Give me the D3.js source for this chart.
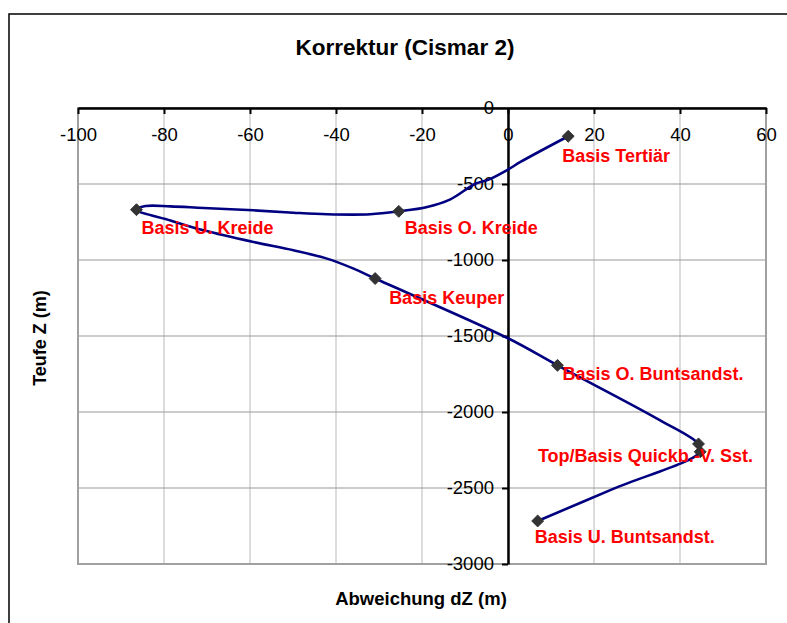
<!DOCTYPE html>
<html>
<head>
<meta charset="utf-8">
<script src="https://cdn.jsdelivr.net/npm/d3@7"></script>
<style>
  html, body { margin: 0; padding: 0; background: #fff; }
  svg { display: block; font-family: "Liberation Sans", Arial, sans-serif; }
</style>
</head>
<body>
<svg id="chart" width="787" height="623"></svg>
<script>
// Well path of Cismar 2: depth correction dZ (m) against true depth Z (m)
const pathDz = [14, 2.9, 0, -4.5, -7.6, -13.4, -18.8, -25.4, -32, -42.1, -49.9, -59.2, -70.8, -78.5, -84.3, -86.4,
                -78.5, -70.8, -59.2, -49.9, -42.1, -35.9, -30.9, 0, 11.5, 35.4, 44.3, 44.7, 24.6, 6.9];
const pathZ  = [-186, -355, -405, -471, -498, -601, -651, -680, -699, -699, -689, -673, -658, -647, -645, -669,
                -740, -805, -882, -936, -991, -1057, -1122, -1515, -1693, -2055, -2210, -2262, -2504, -2717];

// Stratigraphic horizons (markers)
const horizonNames = ["Basis Tertiär", "Basis O. Kreide", "Basis U. Kreide", "Basis Keuper",
                      "Basis O. Buntsandst.", "Top Quickb.-V. Sst.", "Basis Quickb.-V. Sst.", "Basis U. Buntsandst."];
const horizonDz = [14, -25.4, -86.4, -30.9, 11.5, 44.3, 44.7, 6.9];
const horizonZ  = [-186, -680, -669, -1122, -1693, -2210, -2262, -2717];

// Label texts, each tied to a horizon marker
const labelTexts   = ["Basis Tertiär", "Basis O. Kreide", "Basis U. Kreide", "Basis Keuper",
                      "Basis O. Buntsandst.", "Top/Basis Quickb.-V. Sst.", "Basis U. Buntsandst."];
const labelHorizon = [0, 1, 2, 3, 4, 5, 7];

// Axis ticks
const xTicks = [-100, -80, -60, -40, -20, 0, 20, 40, 60];
const yTicks = [0, -500, -1000, -1500, -2000, -2500, -3000];

const svg = d3.select("#chart");
const plainNumber = d => String(d);

// outer chart frame
svg.append("rect")
  .attr("x", 9).attr("y", 14).attr("width", 820).attr("height", 700)
  .attr("fill", "#fff").attr("stroke", "#000").attr("stroke-width", 1.5);

const plot = { left: 78, right: 766, top: 108, bottom: 564 };
const x = d3.scaleLinear().domain([-100, 60]).range([plot.left, plot.right]);
const y = d3.scaleLinear().domain([0, -3000]).range([plot.top, plot.bottom]);

// title
svg.append("text")
  .attr("x", 405).attr("y", 55)
  .attr("text-anchor", "middle")
  .attr("font-size", 22.5).attr("font-weight", "bold")
  .text("Korrektur (Cismar 2)");

// gridlines
const grid = svg.append("g");
grid.selectAll("line.v").data(xTicks.filter(d => d > -100 && d < 60)).join("line")
  .attr("x1", d => x(d)).attr("x2", d => x(d))
  .attr("y1", plot.top).attr("y2", plot.bottom)
  .attr("stroke", "#d0d0d0").attr("stroke-width", 1.5);
grid.selectAll("line.h").data(yTicks.filter(d => d < 0 && d > -3000)).join("line")
  .attr("x1", plot.left).attr("x2", plot.right)
  .attr("y1", d => y(d)).attr("y2", d => y(d))
  .attr("stroke", "#999").attr("stroke-width", 1.2);

// plot area border
svg.append("rect")
  .attr("x", plot.left).attr("y", plot.top)
  .attr("width", plot.right - plot.left).attr("height", plot.bottom - plot.top)
  .attr("fill", "none").attr("stroke", "#a0a0a0").attr("stroke-width", 2);

// x axis along Z = 0, labels below the line
const xAxis = svg.append("g")
  .attr("transform", `translate(0,${y(0)})`)
  .call(d3.axisBottom(x).tickValues(xTicks).tickSize(6).tickSizeOuter(0).tickFormat(plainNumber));
xAxis.select(".domain").attr("stroke", "#000").attr("stroke-width", 2.5);
xAxis.selectAll(".tick line").attr("stroke", "#000").attr("stroke-width", 2);
xAxis.selectAll(".tick text")
  .attr("font-size", 18.5).attr("font-family", "Liberation Sans, Arial, sans-serif")
  .attr("fill", "#000").attr("y", 27).attr("dy", "0.32em");

// y axis along dZ = 0
const yAxis = svg.append("g")
  .attr("transform", `translate(${x(0)},0)`)
  .call(d3.axisLeft(y).tickValues(yTicks).tickSize(6).tickSizeOuter(0).tickFormat(plainNumber));
yAxis.select(".domain").attr("stroke", "#000").attr("stroke-width", 2.5);
yAxis.selectAll(".tick line").attr("stroke", "#000").attr("stroke-width", 2);
yAxis.selectAll(".tick text")
  .attr("font-size", 18.5).attr("font-family", "Liberation Sans, Arial, sans-serif")
  .attr("fill", "#000").attr("x", -14).attr("dy", "0.32em");
// the Z = 0 tick sits on the x axis line
yAxis.selectAll(".tick").filter(d => d === 0).select("line").remove();

// axis titles
svg.append("text")
  .attr("x", 421).attr("y", 605)
  .attr("text-anchor", "middle")
  .attr("font-size", 18.5).attr("font-weight", "bold")
  .text("Abweichung dZ (m)");
svg.append("text")
  .attr("transform", "translate(46,338) rotate(-90)")
  .attr("text-anchor", "middle")
  .attr("font-size", 18).attr("font-weight", "bold")
  .text("Teufe Z (m)");

// well path
const pathData = pathDz.map((d, i) => [d, pathZ[i]]);
svg.append("path")
  .datum(pathData)
  .attr("fill", "none").attr("stroke", "#000080").attr("stroke-width", 2.6)
  .attr("d", d3.line().x(d => x(d[0])).y(d => y(d[1])).curve(d3.curveCatmullRom.alpha(0.5)));

// horizon markers
const horizons = horizonNames.map((n, i) => ({ name: n, dz: horizonDz[i], z: horizonZ[i] }));
svg.selectAll("path.marker").data(horizons).join("path")
  .attr("class", "marker")
  .attr("transform", d => `translate(${x(d.dz)},${y(d.z)})`)
  .attr("d", d3.symbol(d3.symbolDiamond2, 90))
  .attr("fill", "#333").attr("stroke", "#333").attr("stroke-width", 1);

// horizon labels: offset (px) from their marker and anchor
const labelPlacement = [
  { dx: -6, dy: 19, anchor: "start" },
  { dx: 6, dy: 16, anchor: "start" },
  { dx: 5, dy: 18, anchor: "start" },
  { dx: 14, dy: 19, anchor: "start" },
  { dx: 5, dy: 8, anchor: "start" },
  { dx: -53, dy: 12, anchor: "middle" },
  { dx: -3, dy: 16, anchor: "start" }
];
svg.selectAll("text.hlabel").data(labelTexts).join("text")
  .attr("class", "hlabel")
  .attr("x", (d, i) => x(horizons[labelHorizon[i]].dz) + labelPlacement[i].dx)
  .attr("y", (d, i) => y(horizons[labelHorizon[i]].z) + labelPlacement[i].dy)
  .attr("dy", "0.35em")
  .attr("text-anchor", (d, i) => labelPlacement[i].anchor)
  .attr("font-size", 18).attr("font-weight", "bold")
  .attr("fill", "#ff0000")
  .text(d => d);
</script>
</body>
</html>
